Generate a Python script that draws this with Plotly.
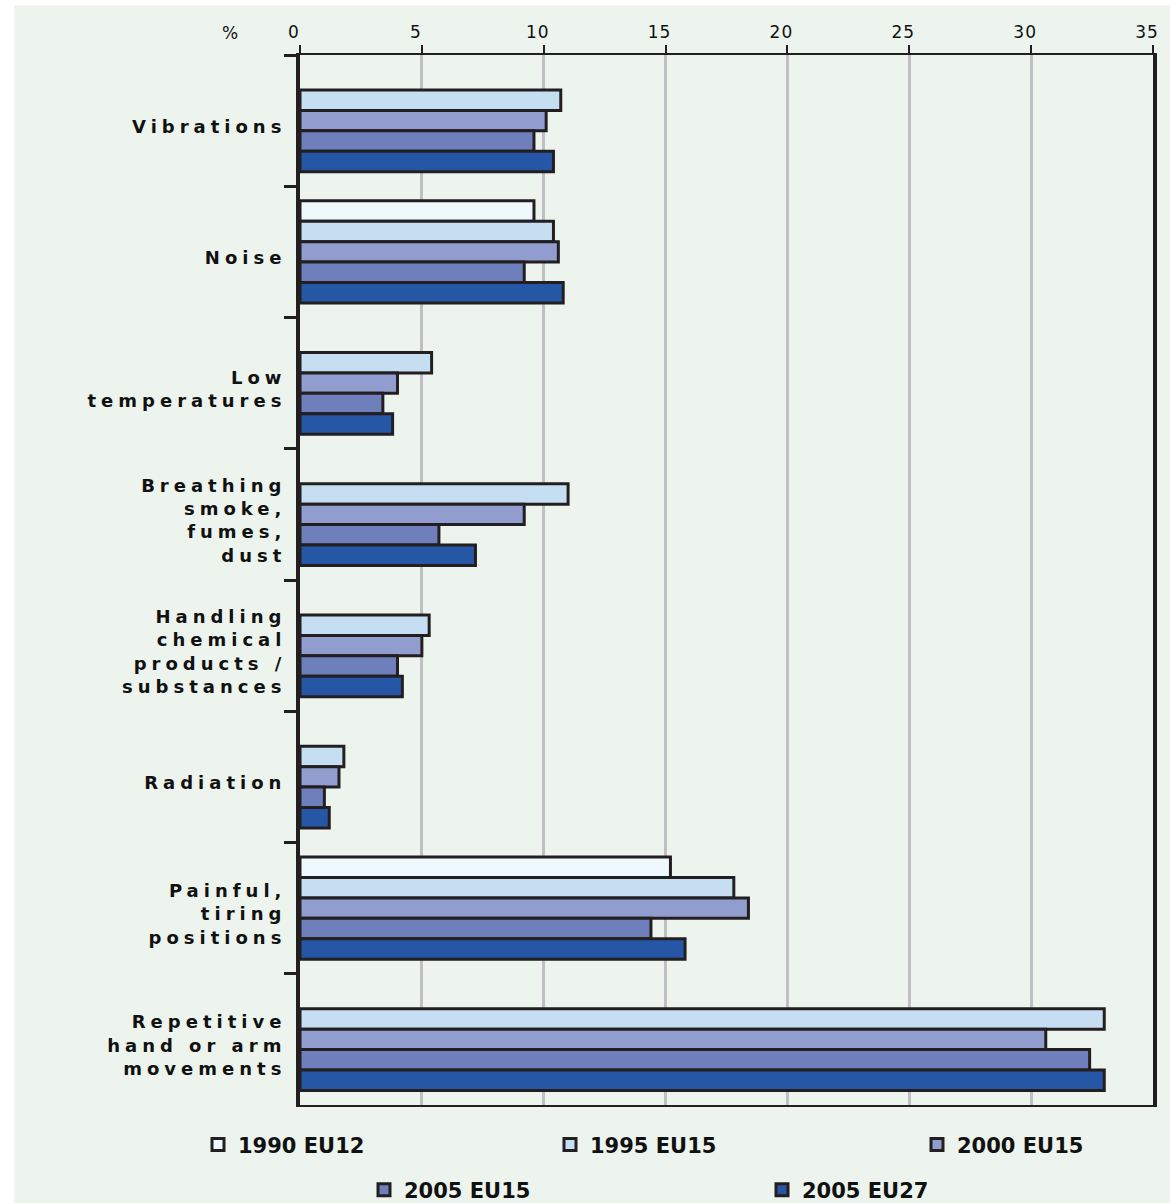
import plotly.graph_objects as go

categories = [
    "Vibrations",
    "Noise",
    "Low<br>temperatures",
    "Breathing<br>smoke,<br>fumes,<br>dust",
    "Handling<br>chemical<br>products /<br>substances",
    "Radiation",
    "Painful,<br>tiring<br>positions",
    "Repetitive<br>hand or arm<br>movements",
]

series_names = ["1990 EU12", "1995 EU15", "2000 EU15", "2005 EU15", "2005 EU27"]

v1990_eu12 = [None, 9.6, None, None, None, None, 15.2, None]
v1995_eu15 = [10.7, 10.4, 5.4, 11.0, 5.3, 1.8, 17.8, 33.0]
v2000_eu15 = [10.1, 10.6, 4.0, 9.2, 5.0, 1.6, 18.4, 30.6]
v2005_eu15 = [9.6, 9.2, 3.4, 5.7, 4.0, 1.0, 14.4, 32.4]
v2005_eu27 = [10.4, 10.8, 3.8, 7.2, 4.2, 1.2, 15.8, 33.0]

series_values = [v1990_eu12, v1995_eu15, v2000_eu15, v2005_eu15, v2005_eu27]
colors = ["#eff8fb", "#c6def2", "#919dcf", "#6e7fbc", "#2557a6"]

x_ticks = [0, 5, 10, 15, 20, 25, 30, 35]

BG = "#edf4ee"
INK = "#231f20"
FONT = "DejaVu Sans"

# one legend per item, so the two centred legend rows can be reproduced
legend_ids = ["legend", "legend2", "legend3", "legend4", "legend5"]
legend_left_px = [198, 550, 917, 364, 762]
legend_row_y = [-0.038, -0.038, -0.038, -0.081, -0.081]

PLOT_L, PLOT_W = 300, 853

fig = go.Figure()
for name, vals, col, lg in zip(series_names, series_values, colors, legend_ids):
    fig.add_trace(go.Bar(
        y=categories, x=vals, name=name, orientation="h",
        marker=dict(color=col, line=dict(color=INK, width=3)),
        legend=lg, hoverinfo="x+name",
    ))

legend_layout = {}
for lg, lpx, ly in zip(legend_ids, legend_left_px, legend_row_y):
    legend_layout[lg] = dict(
        orientation="h", x=(lpx - PLOT_L) / PLOT_W, xanchor="left",
        y=ly, yanchor="middle", bgcolor="rgba(0,0,0,0)",
        font=dict(family=FONT, size=21, weight="bold", color="#111111"),
    )

fig.update_layout(
    width=1170, height=1203,
    margin=dict(l=300, r=17, t=55, b=98, autoexpand=False),
    paper_bgcolor=BG, plot_bgcolor=BG,
    barmode="group", bargap=0.22, bargroupgap=0,
    font=dict(family=FONT, size=18, color="#111111"),
    showlegend=True,
    xaxis=dict(
        side="top", range=[0, 35], tickvals=x_ticks,
        showgrid=True, gridcolor="#bfbfc4", gridwidth=3,
        showline=True, linecolor=INK, linewidth=2, mirror=True,
        ticks="outside", ticklen=8, tickwidth=2, tickcolor=INK,
        tickfont=dict(family=FONT, size=17, color="#111111"),
        ticklabelshift=-6, zeroline=False, fixedrange=True,
    ),
    yaxis=dict(
        autorange="reversed", type="category",
        showgrid=False, showline=True, linecolor=INK, linewidth=4, mirror=True,
        ticks="outside", tickson="boundaries", ticklen=12, tickwidth=3, tickcolor=INK,
        tickfont=dict(family=FONT, size=18, weight="bold", color="#111111"),
        ticklabelstandoff=6, ticklabelshift=-6, fixedrange=True,
    ),
    annotations=[dict(
        text="%", xref="paper", yref="paper", x=0, y=1, xanchor="right", yanchor="bottom",
        xshift=-60, yshift=10, showarrow=False,
        font=dict(family=FONT, size=17, color="#111111"),
    )],
    shapes=[
        dict(type="rect", xref="paper", yref="paper", x0=-0.36, x1=-0.335, y0=-0.1, y1=1.06,
             fillcolor="white", line=dict(width=0), layer="above"),
        dict(type="rect", xref="paper", yref="paper", x0=-0.36, x1=1.03, y0=1.0475, y1=1.06,
             fillcolor="white", line=dict(width=0), layer="above"),
    ],
    **legend_layout,
)

post_js = """
document.documentElement.style.overflow = 'hidden';
document.body.style.margin = '0';
document.body.style.overflow = 'hidden';
var gd = document.getElementById('{plot_id}');
gd.querySelectorAll('.ytick text').forEach(function(t){ t.style.letterSpacing = '5px'; });
gd.querySelectorAll('.xtick text').forEach(function(t){ t.style.letterSpacing = '1px'; });
"""

fig.write_html("out.html", post_script=post_js)
